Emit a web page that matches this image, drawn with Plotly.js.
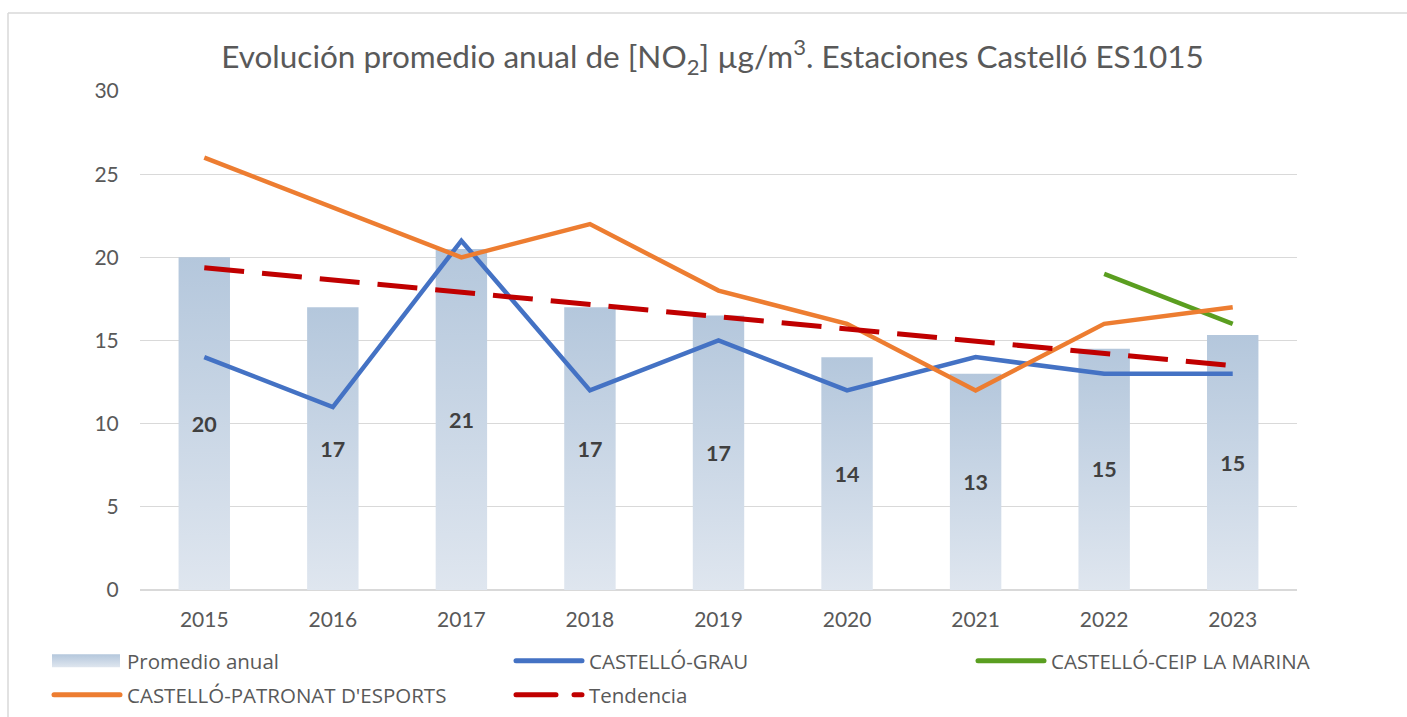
<!DOCTYPE html>
<html>
<head>
<meta charset="utf-8">
<script src="https://cdn.plot.ly/plotly-3.0.1.min.js"></script>
<style>
html,body{margin:0;padding:0;background:#fff;}
#chart{width:1407px;height:717px;}
</style>
</head>
<body>
<div id="chart"></div>
<script>
// ---- data ----
const years = ['2015','2016','2017','2018','2019','2020','2021','2022','2023'];
const promedioAnual = [20, 17, 20.5, 17, 16.5, 14, 13, 14.5, 15.33];
const castelloGrau = [14, 11, 21, 12, 15, 12, 14, 13, 13];
const castelloCeip = [null, null, null, null, null, null, null, 19, 16];
const castelloPatronat = [26, 23, 20, 22, 18, 16, 12, 16, 17];
const tendencia = [19.37, 18.63, 17.9, 17.16, 16.43, 15.69, 14.96, 14.22, 13.48];

const FONT = 'Lato, "Open Sans", sans-serif';
const LFONT = '"Open Sans", Lato, sans-serif';
const GREY = '#595959';

const traces = [
  {type:'bar', name:'Promedio anual', x:years, y:promedioAnual,
   marker:{color:'#c6d4e5'}, width:0.4,
   texttemplate:'%{y:.0f}', textposition:'inside', insidetextanchor:'middle',
   textangle:0, constraintext:'none',
   textfont:{family:FONT, size:21.5, color:'#404040', weight:700},
   hoverinfo:'skip', legend:'legend'},
  {type:'scatter', mode:'lines', name:'CASTELLÓ-GRAU', x:years, y:castelloGrau,
   line:{color:'#4472c4', width:4.5}, legend:'legend2'},
  {type:'scatter', mode:'lines', name:'CASTELLÓ-CEIP LA MARINA', x:years, y:castelloCeip,
   line:{color:'#5a9e20', width:4.5}, legend:'legend3'},
  {type:'scatter', mode:'lines', name:"CASTELLÓ-PATRONAT D'ESPORTS", x:years, y:castelloPatronat,
   line:{color:'#ed7d31', width:4.5}, legend:'legend4'},
  {type:'scatter', mode:'lines', name:'Tendencia', x:years, y:tendencia,
   line:{color:'#c00000', width:5, dash:'40px,18px'}, legend:'legend5'}
];

const X0 = 140, W = 1157, YB = 590, H = 499;
const px = v => (v - X0) / W;
const py = v => (YB - v) / H;

function leg(xp, yp){
  return {x:px(xp), y:py(yp), xanchor:'left', yanchor:'middle', orientation:'h',
          font:{family:LFONT, size:20.5, color:GREY}, bgcolor:'rgba(0,0,0,0)',
          itemwidth:70, itemsizing:'constant'};
}

const layout = {
  width:1407, height:717,
  margin:{l:140, r:110, t:91, b:127, autoexpand:false},
  paper_bgcolor:'#fff', plot_bgcolor:'#fff',
  font:{family:FONT, color:GREY},
  title:{text:'Evolución promedio anual de [NO<sub>2</sub>] µg/m<sup>3</sup>. Estaciones Castelló ES1015',
         font:{family:FONT, size:31.5, color:GREY}, x:0.5064, xref:'container', xanchor:'center',
         y:1-57/717, yref:'container', yanchor:'middle'},
  xaxis:{type:'category', showgrid:false, showline:false, zeroline:false,
         ticks:'outside', ticklen:11, tickcolor:'rgba(0,0,0,0)',
         tickfont:{family:FONT, size:21, color:GREY}},
  yaxis:{range:[0,30], dtick:5, tick0:0, showgrid:true, gridcolor:'#d9d9d9', gridwidth:1.3,
         zeroline:true, zerolinecolor:'#d9d9d9', zerolinewidth:1.3, showline:false,
         ticks:'outside', ticklen:16, tickcolor:'rgba(0,0,0,0)',
         tickfont:{family:FONT, size:21, color:GREY}},
  showlegend:true,
  legend: leg(47, 661),
  legend2: leg(509, 661),
  legend3: leg(971, 661),
  legend4: leg(47, 695),
  legend5: leg(509, 695),
  shapes:[
    {type:'line', xref:'paper', yref:'paper', x0:px(8), x1:px(1407), y0:py(13), y1:py(13),
     line:{color:'#d9d9d9', width:1.5}, layer:'below'},
    {type:'line', xref:'paper', yref:'paper', x0:px(8), x1:px(8), y0:py(13), y1:py(717),
     line:{color:'#d9d9d9', width:1.5}, layer:'below'}
  ],
  hovermode:false
};

function applyGradient(gd){
  const ns = 'http://www.w3.org/2000/svg';
  const svg = gd.querySelector('svg.main-svg');
  let defs = svg.querySelector('defs');
  if(!defs){ defs = document.createElementNS(ns,'defs'); svg.insertBefore(defs, svg.firstChild); }
  const lg = document.createElementNS(ns,'linearGradient');
  lg.setAttribute('id','barGrad');
  lg.setAttribute('x1','0'); lg.setAttribute('y1','0');
  lg.setAttribute('x2','0'); lg.setAttribute('y2','1');
  [['0','#b4c7dc'],['1','#dfe6ef']].forEach(([o,c])=>{
    const s = document.createElementNS(ns,'stop');
    s.setAttribute('offset',o); s.setAttribute('stop-color',c);
    lg.appendChild(s);
  });
  defs.appendChild(lg);
  gd.querySelectorAll('.barlayer .point path').forEach(p=>{ p.style.fill='url(#barGrad)'; });
  // legend swatches: ~68px long, starting 5px into the item
  gd.querySelectorAll('.legendpoints path').forEach(p=>{
    const c = p.getAttribute('class') || '';
    if(c.indexOf('legendundefined')>=0){
      let t = 40;
      const m = /translate\(\s*([-\d.]+)/.exec(p.getAttribute('transform') || '');
      if(m) t = parseFloat(m[1]);
      p.style.fill='url(#barGrad)';
      p.setAttribute('d','M' + (5 - t) + ',6.5H' + (73 - t) + 'V-6.5H' + (5 - t) + 'Z');
    }
  });
  gd.querySelectorAll('.legendlines path').forEach(p=>{
    p.setAttribute('d','M7,0h66');
    p.style.strokeLinecap = 'round';
  });
}

Plotly.newPlot('chart', traces, layout, {staticPlot:true, displayModeBar:false})
  .then(applyGradient);
</script>
</body>
</html>
